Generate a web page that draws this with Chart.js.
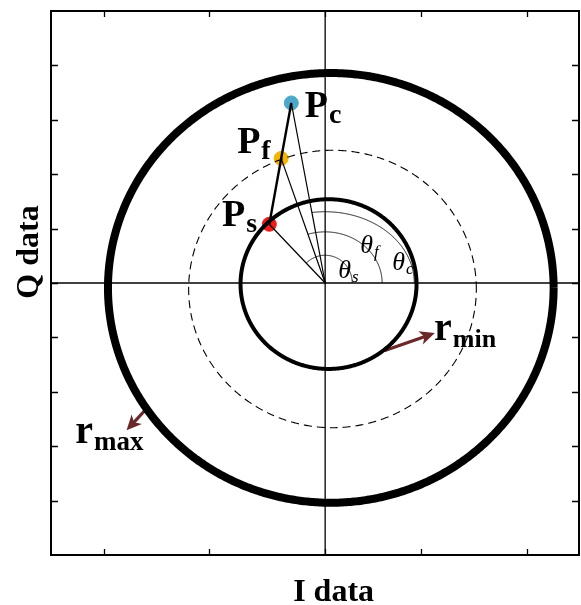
<!DOCTYPE html>
<html>
<head>
<meta charset="utf-8">
<script src="https://cdn.jsdelivr.net/npm/chart.js@4/dist/chart.umd.min.js"></script>
<style>
  html, body { margin: 0; padding: 0; background: #fff; }
  #wrap { width: 581px; height: 605px; }
</style>
</head>
<body>
<div id="wrap"><canvas id="c"></canvas></div>
<script>
// ---- axis ranges and tick marks (I / Q units) ----
const iRange = [-4.86, 4.5];
const qRange = [-5, 5];
const iTickValues = [-3.92, -2.06, 0, 1.70, 3.57];
const qTickValues = [-4, -3, -2, -1, 0, 1, 2, 3, 4];

// ---- amplitude circles ----
const circleNames   = ['rmax', 'rmid', 'rmin'];
const circleCenterI = [0.10, 0.13, 0.06];
const circleCenterQ = [-0.09, -0.11, -0.02];
const circleRadius  = [3.95, 2.55, 1.56];

// ---- constellation points Ps, Pf, Pc ----
const pointNames  = ['Ps', 'Pf', 'Pc'];
const pointI      = [-0.99, -0.78, -0.60];
const pointQ      = [1.08, 2.29, 3.31];
const pointColors = ['#ee1c1c', '#f4b400', '#4ba8c8'];

// ---- angle arcs θs, θf, θc (semi-axes along I and Q) ----
const arcRadiusI = [0.48, 1.01, 1.58];
const arcRadiusQ = [0.51, 0.94, 1.31];

// ---- radius arrows: [tailI, tailQ, headI, headQ] ----
const arrowMin = [1.06, -1.24, 1.86, -0.95];
const arrowMax = [-3.14, -2.28, -3.46, -2.64];

const origin = [0, 0];

function circlePoints(ci, cq, r, steps) {
  const pts = [];
  for (let k = 0; k <= steps; k++) {
    const a = 2 * Math.PI * k / steps;
    pts.push({ x: ci + r * Math.cos(a), y: cq + r * Math.sin(a) });
  }
  return pts;
}

// elliptic arc swept from the I axis to the direction angle a1
function arcPoints(ci, cq, ri, rq, a1, steps) {
  const pts = [];
  for (let k = 0; k <= steps; k++) {
    const a = a1 * k / steps;
    const c = Math.cos(a), s = Math.sin(a);
    const r = 1 / Math.sqrt((c * c) / (ri * ri) + (s * s) / (rq * rq));
    pts.push({ x: ci + r * c, y: cq + r * s });
  }
  return pts;
}

const circleStyles = {
  rmax: { borderWidth: 8, borderDash: [] },
  rmid: { borderWidth: 1.1, borderDash: [8, 5] },
  rmin: { borderWidth: 4, borderDash: [] }
};

const datasets = [];

// axis cross lines
datasets.push({ data: [{ x: iRange[0], y: 0 }, { x: iRange[1], y: 0 }], borderColor: '#000', borderWidth: 1.3 });
datasets.push({ data: [{ x: 0, y: qRange[0] }, { x: 0, y: qRange[1] }], borderColor: '#000', borderWidth: 1.3 });

// circles
circleNames.forEach((n, i) => {
  datasets.push({
    label: n,
    data: circlePoints(circleCenterI[i], circleCenterQ[i], circleRadius[i], 360),
    borderColor: '#000',
    borderWidth: circleStyles[n].borderWidth,
    borderDash: circleStyles[n].borderDash,
    tension: 0.001,
    borderJoinStyle: 'round'
  });
});

// angle arcs from the I axis to each point direction
pointNames.forEach((n, i) => {
  const ang = Math.atan2(pointQ[i], pointI[i]);
  datasets.push({
    data: arcPoints(origin[0], origin[1], arcRadiusI[i], arcRadiusQ[i], ang, 120),
    borderColor: '#000',
    borderWidth: 0.9,
    tension: 0.001
  });
});

// rays from the origin
pointNames.forEach((n, i) => {
  datasets.push({
    data: [{ x: origin[0], y: origin[1] }, { x: pointI[i], y: pointQ[i] }],
    borderColor: '#000',
    borderWidth: 1.2
  });
});

// trajectory Ps -> Pf -> Pc
datasets.push({
  data: pointNames.map((n, i) => ({ x: pointI[i], y: pointQ[i] })),
  borderColor: '#000',
  borderWidth: 2.4
});

// arrows
[arrowMin, arrowMax].forEach(a => {
  datasets.push({
    data: [{ x: a[0], y: a[1] }, { x: a[2], y: a[3] }],
    borderColor: '#6b2828',
    borderWidth: 3.2,
    arrowHead: true
  });
});

// points
datasets.push({
  type: 'scatter',
  data: pointNames.map((n, i) => ({ x: pointI[i], y: pointQ[i] })),
  pointBackgroundColor: pointColors,
  pointBorderColor: pointColors,
  pointRadius: 7,
  showLine: false
});

// text annotations anchored in data coordinates
const annotations = [
  { main: 'P', sub: 'c', i: -0.36, q: 3.05, size: 38, subSize: 28, drop: 6, italic: false },
  { main: 'P', sub: 'f', i: -1.56, q: 2.39, size: 38, subSize: 28, drop: 6, italic: false },
  { main: 'P', sub: 's', i: -1.83, q: 1.05, size: 38, subSize: 28, drop: 6, italic: false },
  { main: 'r', sub: 'min', i: 1.93, q: -1.05, size: 40, subSize: 26, drop: 7, italic: false },
  { main: 'r', sub: 'max', i: -4.43, q: -2.94, size: 40, subSize: 27, drop: 7, italic: false },
  { main: 'θ', sub: 's', i: 0.23, q: 0.09, size: 26, subSize: 17, drop: 4, italic: true },
  { main: 'θ', sub: 'f', i: 0.62, q: 0.55, size: 26, subSize: 17, drop: 4, italic: true },
  { main: 'θ', sub: 'c', i: 1.19, q: 0.24, size: 26, subSize: 17, drop: 4, italic: true }
];

const axisTitles = {
  font: 'bold 32px "Liberation Serif", serif',
  iText: 'I data',
  qText: 'Q data'
};

const frameAndTicks = {
  id: 'frameAndTicks',
  afterDatasetsDraw(chart) {
    const { ctx, chartArea: a, scales: { x, y } } = chart;
    ctx.save();
    ctx.strokeStyle = '#000';
    ctx.lineWidth = 1.3;
    const tl = 7;
    ctx.beginPath();
    qTickValues.forEach(v => {
      const py = Math.round(y.getPixelForValue(v)) + 0.5;
      ctx.moveTo(a.left, py); ctx.lineTo(a.left + tl, py);
      ctx.moveTo(a.right, py); ctx.lineTo(a.right - tl, py);
    });
    iTickValues.forEach(v => {
      const px = Math.round(x.getPixelForValue(v)) + 0.5;
      ctx.moveTo(px, a.bottom); ctx.lineTo(px, a.bottom - tl + 1);
      ctx.moveTo(px, a.top); ctx.lineTo(px, a.top + tl - 1);
    });
    ctx.stroke();
    ctx.lineWidth = 2;
    ctx.strokeRect(a.left, a.top, a.right - a.left, a.bottom - a.top);

    // axis titles
    ctx.fillStyle = '#000';
    ctx.font = axisTitles.font;
    ctx.textAlign = 'center';
    ctx.textBaseline = 'alphabetic';
    ctx.fillText(axisTitles.iText, x.getPixelForValue(0.15), a.bottom + 46);
    ctx.translate(a.left - 13, y.getPixelForValue(0.57));
    ctx.rotate(-Math.PI / 2);
    ctx.fillText(axisTitles.qText, 0, 0);
    ctx.restore();
  }
};

const arrowHeads = {
  id: 'arrowHeads',
  afterDatasetsDraw(chart) {
    const { ctx, scales: { x, y } } = chart;
    ctx.save();
    chart.data.datasets.forEach(ds => {
      if (!ds.arrowHead) return;
      const p0 = ds.data[0], p1 = ds.data[1];
      const x0 = x.getPixelForValue(p0.x), y0 = y.getPixelForValue(p0.y);
      const x1 = x.getPixelForValue(p1.x), y1 = y.getPixelForValue(p1.y);
      const ang = Math.atan2(y1 - y0, x1 - x0);
      const c = Math.cos(ang), s = Math.sin(ang);
      const tip = 5, back = 10, W = 7;
      ctx.fillStyle = ds.borderColor;
      ctx.beginPath();
      ctx.moveTo(x1 + c * tip, y1 + s * tip);
      ctx.lineTo(x1 - c * back - s * W, y1 - s * back + c * W);
      ctx.lineTo(x1 - c * (back - 4), y1 - s * (back - 4));
      ctx.lineTo(x1 - c * back + s * W, y1 - s * back - c * W);
      ctx.closePath();
      ctx.fill();
    });
    ctx.restore();
  }
};

const textLabels = {
  id: 'textLabels',
  afterDatasetsDraw(chart) {
    const { ctx, scales: { x, y } } = chart;
    ctx.save();
    ctx.fillStyle = '#000';
    ctx.textBaseline = 'alphabetic';
    annotations.forEach(t => {
      const px = x.getPixelForValue(t.i), py = y.getPixelForValue(t.q);
      const style = t.italic ? 'italic ' : 'bold ';
      ctx.font = style + t.size + 'px "Liberation Serif", serif';
      ctx.fillText(t.main, px, py);
      const w = ctx.measureText(t.main).width;
      ctx.font = style + t.subSize + 'px "Liberation Serif", serif';
      ctx.fillText(t.sub, px + w + 1, py + t.drop);
    });
    ctx.restore();
  }
};

new Chart(document.getElementById('c'), {
  type: 'line',
  data: { datasets },
  options: {
    responsive: true,
    maintainAspectRatio: false,
    animation: false,
    layout: { autoPadding: false, padding: { left: 51, right: 2, top: 11, bottom: 50 } },
    elements: { point: { radius: 0 }, line: { tension: 0, fill: false } },
    plugins: { legend: { display: false }, tooltip: { enabled: false } },
    scales: {
      x: { type: 'linear', min: iRange[0], max: iRange[1], display: false },
      y: { type: 'linear', min: qRange[0], max: qRange[1], display: false }
    }
  },
  plugins: [frameAndTicks, arrowHeads, textLabels]
});
</script>
</body>
</html>
